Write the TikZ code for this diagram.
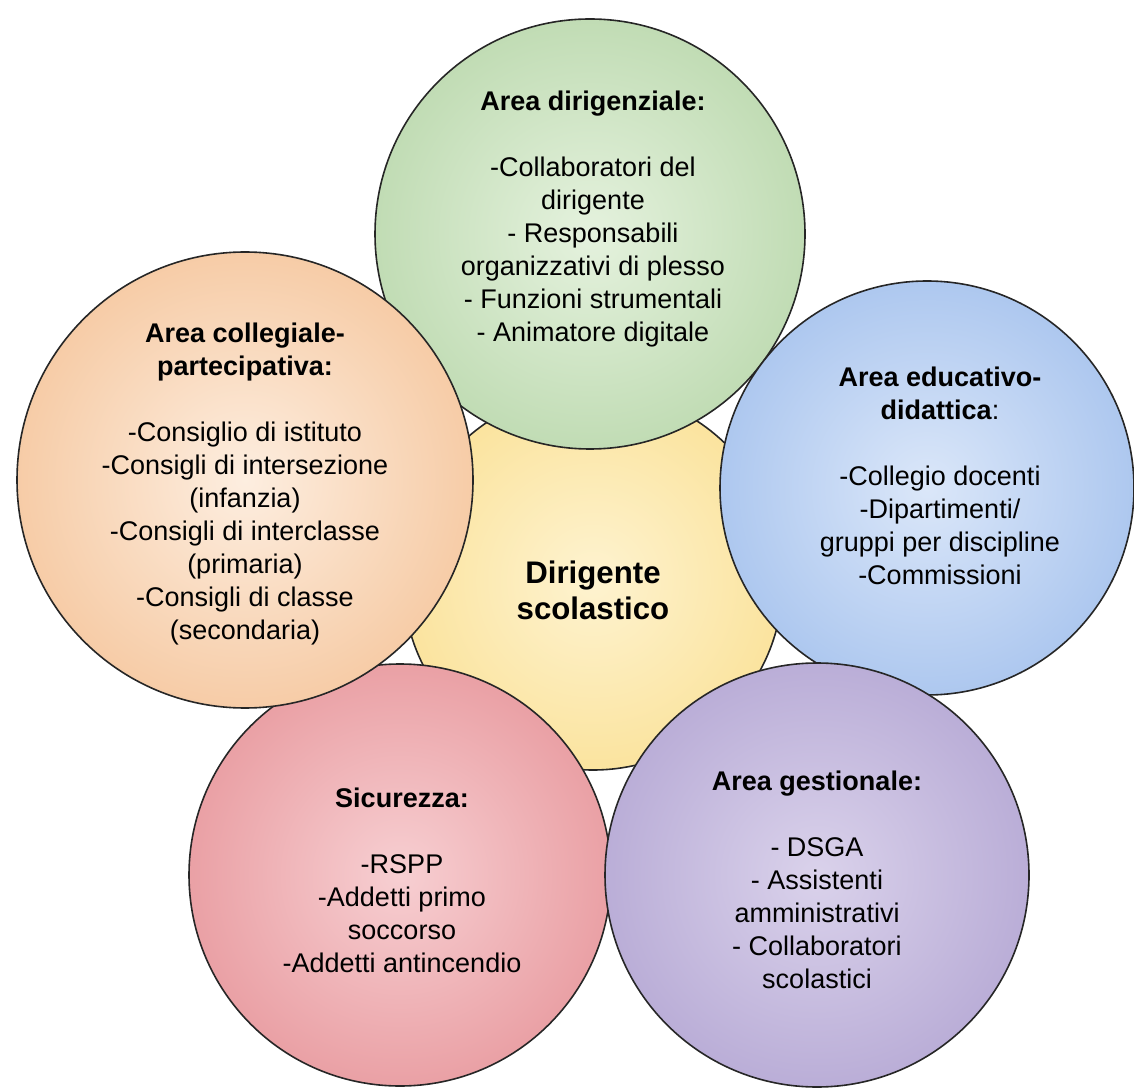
\documentclass[tikz,border=0pt]{standalone}
\usepackage{fontspec}
\setmainfont{Liberation Sans}
\usepackage{tikz}

\definecolor{yellowin}{RGB}{254,243,208}
\definecolor{yellowout}{RGB}{248,215,118}
\definecolor{greenin}{RGB}{229,242,222}
\definecolor{greenout}{RGB}{163,202,146}
\definecolor{orangein}{RGB}{253,238,224}
\definecolor{orangeout}{RGB}{241,176,120}
\definecolor{bluein}{RGB}{219,231,249}
\definecolor{blueout}{RGB}{136,174,231}
\definecolor{redin}{RGB}{247,207,210}
\definecolor{redout}{RGB}{223,122,128}
\definecolor{purplein}{RGB}{218,210,235}
\definecolor{purpleout}{RGB}{160,144,199}

\pgfdeclareradialshading{yellowshade}{\pgfpoint{0bp}{0bp}}{color(0bp)=(yellowin); color(25bp)=(yellowin!45!yellowout); color(50bp)=(yellowout)}
\pgfdeclareradialshading{greenshade}{\pgfpoint{0bp}{0bp}}{color(0bp)=(greenin); color(25bp)=(greenin!45!greenout); color(50bp)=(greenout)}
\pgfdeclareradialshading{orangeshade}{\pgfpoint{0bp}{0bp}}{color(0bp)=(orangein); color(25bp)=(orangein!45!orangeout); color(50bp)=(orangeout)}
\pgfdeclareradialshading{blueshade}{\pgfpoint{0bp}{0bp}}{color(0bp)=(bluein); color(25bp)=(bluein!45!blueout); color(50bp)=(blueout)}
\pgfdeclareradialshading{redshade}{\pgfpoint{0bp}{0bp}}{color(0bp)=(redin); color(25bp)=(redin!45!redout); color(50bp)=(redout)}
\pgfdeclareradialshading{purpleshade}{\pgfpoint{0bp}{0bp}}{color(0bp)=(purplein); color(25bp)=(purplein!45!purpleout); color(50bp)=(purpleout)}

\begin{document}
\begin{tikzpicture}[x=0.5pt, y=-0.5pt,
		area_style/.style={circle,draw=black!85,line width=0.8pt,inner sep=0pt,minimum size=#1},
		text_style/.style={align=center,font=\fontsize{13.5}{16.5}\selectfont}]
		
		\useasboundingbox (0,0) rectangle (1134,1090);
		
		\node[area_style=190pt, shading=yellowshade] (ds)   at (593,580) {};
		\node[area_style=215pt, shading=greenshade]  (dir)  at (590,234) {};
		\node[area_style=207pt, shading=blueshade]   (edu)  at (927,488) {};
		\node[area_style=211pt, shading=redshade]    (sic)  at (400,875) {};
		\node[area_style=212pt, shading=purpleshade] (ges)  at (817,875) {};
		\node[area_style=228pt, shading=orangeshade] (coll) at (245,480) {};
		
		
		\node[text_style, font=\bfseries\fontsize{15.6}{18}\selectfont] (t_ds) at (593,590) {Dirigente\\ scolastico};
		\node[text_style] (t_dir)  at (593,219) {\textbf{Area dirigenziale:}\\[16.5pt] -Collaboratori del\\ dirigente\\ - Responsabili\\ organizzativi di plesso\\ - Funzioni strumentali\\ - Animatore digitale};
		\node[text_style] (t_coll) at (245,484) {\textbf{Area collegiale-}\\ \textbf{partecipativa:}\\[16.5pt] -Consiglio di istituto\\ -Consigli di intersezione\\ (infanzia)\\ -Consigli di interclasse\\ (primaria)\\ -Consigli di classe\\ (secondaria)};
		\node[text_style] (t_edu)  at (940,476) {\textbf{Area educativo-}\\ \textbf{didattica}:\\[16.5pt] -Collegio docenti\\ -Dipartimenti/\\ gruppi per discipline\\ -Commissioni};
		\node[text_style] (t_sic)  at (402,880) {\textbf{Sicurezza:}\\[16.5pt] -RSPP\\ -Addetti primo\\ soccorso\\ -Addetti antincendio};
		\node[text_style] (t_ges)  at (817,880) {\textbf{Area gestionale:}\\[16.5pt] - DSGA\\ - Assistenti\\ amministrativi\\ - Collaboratori\\ scolastici};
		
\end{tikzpicture}
\end{document}
